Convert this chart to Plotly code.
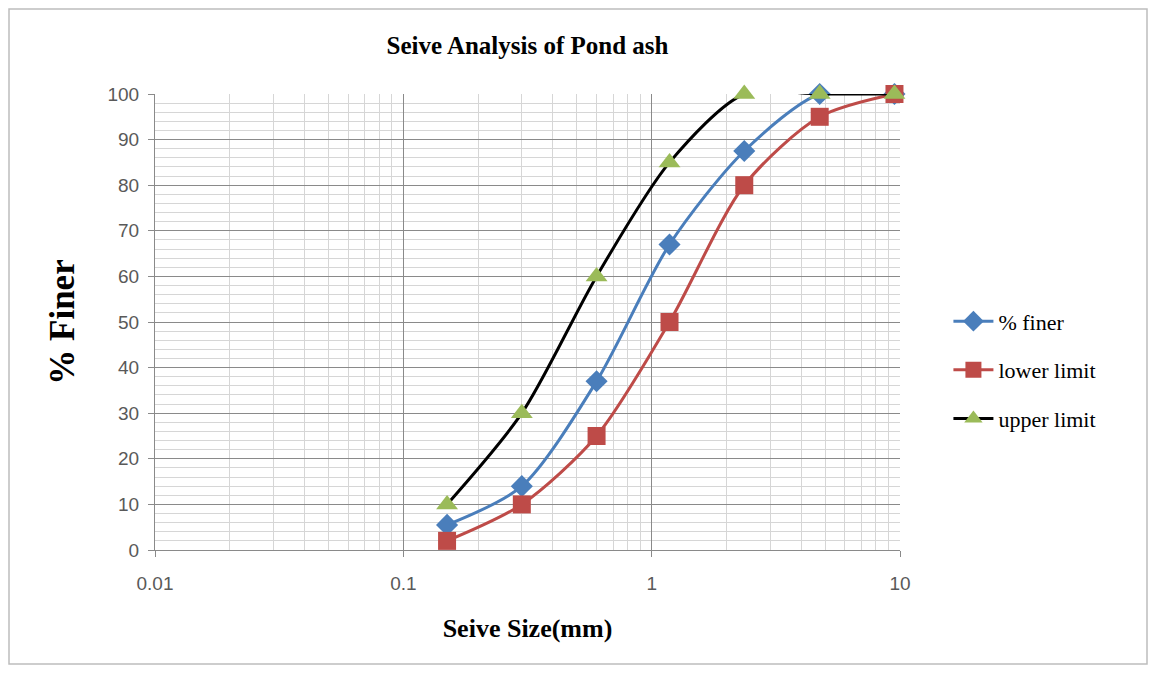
import plotly.graph_objects as go

sieve_mm = [0.15, 0.3, 0.6, 1.18, 2.36, 4.75, 9.5]
pct_finer = [5.5, 14, 37, 67, 87.5, 100, 100]
lower_limit = [2, 10, 25, 50, 80, 95, 100]
upper_limit = [10, 30, 60, 85, 100, 100, 100]

fig = go.Figure()
fig.add_trace(go.Scatter(
    x=sieve_mm, y=pct_finer, name="% finer", legendgroup="a", mode="lines+markers", cliponaxis=False,
    line=dict(color="#4A7EBB", width=3, shape="spline", smoothing=0.8),
    marker=dict(symbol="diamond", size=17, color="#4A7EBB")))
fig.add_trace(go.Scatter(
    x=sieve_mm, y=lower_limit, name="lower limit", legendgroup="b", mode="lines+markers", cliponaxis=False,
    line=dict(color="#BE4B48", width=3, shape="spline", smoothing=0.8),
    marker=dict(symbol="square", size=18, color="#BE4B48")))
fig.add_trace(go.Scatter(
    x=sieve_mm, y=upper_limit, name="upper limit", legendgroup="c", mode="lines+markers", cliponaxis=False,
    line=dict(color="#000000", width=3, shape="spline", smoothing=0.8),
    marker=dict(symbol="triangle-up", size=19, color="#9BBB59")))

fig.update_layout(
    width=1140, height=658,
    margin=dict(l=147, r=248, t=86, b=116),
    paper_bgcolor="white", plot_bgcolor="white",
    title=dict(text="<b>Seive Analysis of Pond ash</b>", x=0.5, xanchor="center",
               xref="paper", y=0.944, yanchor="middle",
               font=dict(family="Liberation Serif", size=25, color="#000")),
    legend=dict(x=1.065, y=0.395, xanchor="left", yanchor="middle",
                font=dict(family="Liberation Serif", size=22, color="#000"),
                tracegroupgap=17, itemwidth=40, bgcolor="rgba(0,0,0,0)"),
    showlegend=True,
)
fig.update_xaxes(
    type="log", range=[-2, 1], tickvals=[0.01, 0.1, 1, 10],
    ticktext=["0.01", "0.1", "1", "10"],
    showgrid=True, gridcolor="#8a8a8a", gridwidth=1,
    minor=dict(showgrid=True, gridcolor="#d6d6d6", gridwidth=1,
               tickvals=[v * m for m in [0.01, 0.1, 1] for v in range(2, 10)]),
    showline=True, linecolor="#8a8a8a", ticks="outside", ticklen=6, tickcolor="#8a8a8a",
    ticklabelstandoff=10,
    tickfont=dict(family="Liberation Sans", size=19, color="#595959"),
    title=dict(text="<b>Seive Size(mm)</b>", standoff=26,
               font=dict(family="Liberation Serif", size=26, color="#000")),
    zeroline=False,
)
fig.update_yaxes(
    range=[0, 100], dtick=10,
    showgrid=True, gridcolor="#8a8a8a", gridwidth=1,
    minor=dict(dtick=2, showgrid=True, gridcolor="#d6d6d6", gridwidth=1),
    showline=True, linecolor="#8a8a8a", ticks="outside", ticklen=6, tickcolor="#8a8a8a",
    ticklabelstandoff=5,
    tickfont=dict(family="Liberation Sans", size=19, color="#595959"),
    title=dict(text="<b>% Finer</b>", standoff=22,
               font=dict(family="Liberation Serif", size=35, color="#000")),
    zeroline=False,
)
fig.add_shape(type="rect", xref="paper", yref="paper",
              x0=(1 - 147) / 745, x1=(1139 - 147) / 745,
              y0=(542 - 656) / 456, y1=(542 - 1) / 456,
              line=dict(color="#bdbdbd", width=1.5), fillcolor="rgba(0,0,0,0)", layer="below")

fig.write_html("out.html")
